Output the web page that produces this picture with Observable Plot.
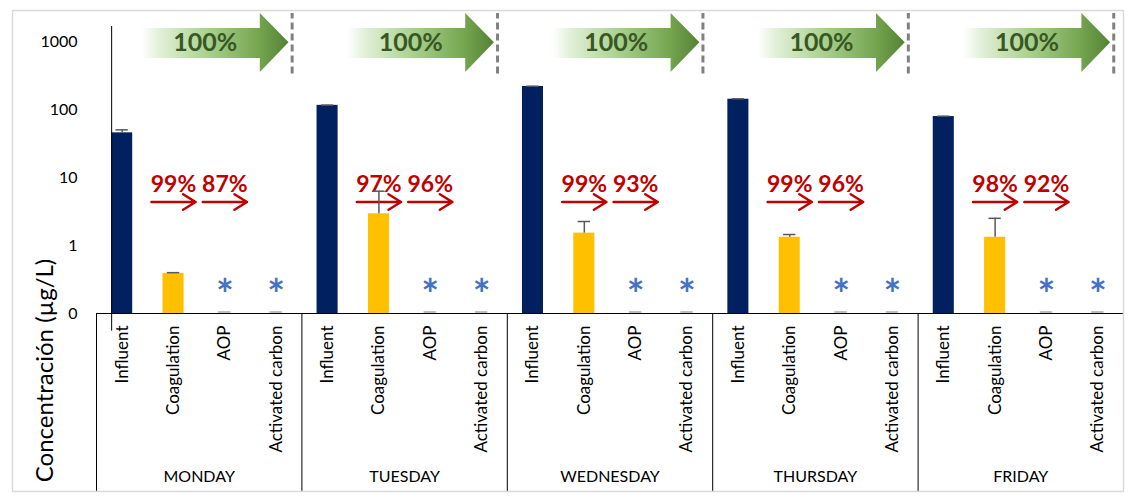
<!DOCTYPE html>
<html><head><meta charset="utf-8">
<script src="https://cdn.jsdelivr.net/npm/d3@7"></script>
<script src="https://cdn.jsdelivr.net/npm/@observablehq/plot@0.6"></script>
<style>body{margin:0;background:#fff;}</style>
</head><body><div id="chart"></div>
<script>
// ---- data ----
const days = ["MONDAY", "TUESDAY", "WEDNESDAY", "THURSDAY", "FRIDAY"];
const stages = ["Influent", "Coagulation", "AOP", "Activated carbon"];
const influent = [46, 117, 222, 144, 80];
const influentErr = [5, 1, 2, 2, 1];
const coagulation = [0.39, 2.95, 1.53, 1.33, 1.33];
const coagulationErr = [0.01, 3.4, 0.74, 0.13, 1.2];
const aop = [0, 0, 0, 0, 0];
const activatedCarbon = [0, 0, 0, 0, 0];
const removalCoag = ["99%", "97%", "99%", "99%", "98%"];
const removalAop = ["87%", "96%", "93%", "96%", "92%"];
const totalRemoval = ["100%", "100%", "100%", "100%", "100%"];
const yTicks = [0.1, 1, 10, 100, 1000];
const yTickLabels = ["0", "1", "10", "100", "1000"];

// ---- layout helpers ----
const bw = 0.41;      // bar width in category units
const cap = 0.12;     // half error-bar cap
const rows = [];
days.forEach((day, d) => {
  const vals = [influent[d], coagulation[d], aop[d], activatedCarbon[d]];
  const errs = [influentErr[d], coagulationErr[d], 0, 0];
  stages.forEach((stage, s) => rows.push({day, stage, i: d * 4 + s, value: vals[s], err: errs[s]}));
});
const bars = rows.filter(r => r.value > 0);
const zeros = rows.filter(r => r.value === 0);
const removalRows = days.flatMap((day, d) => [
  {i: d * 4 + 1, label: removalCoag[d]},
  {i: d * 4 + 2, label: removalAop[d]}
]);
// green block arrow outline (offset in category units, y in µg/L)
const greenShape = [
  {dx: 0.39, lo: 575, hi: 1590},
  {dx: 2.69, lo: 575, hi: 1590},
  {dx: 2.69, lo: 356, hi: 2650},
  {dx: 3.25, lo: 980, hi: 980}
];
const greenPts = days.flatMap((day, d) => greenShape.map(p => ({day, x: d * 4 + p.dx, lo: p.lo, hi: p.hi})));

const chart = Plot.plot({
  width: 1128, height: 498,
  marginLeft: 96, marginRight: 5, marginTop: 26, marginBottom: 185,
  style: {fontFamily: "Lato, sans-serif", fontSize: "16px", background: "white", color: "black"},
  x: {type: "linear", domain: [-0.5, 19.5]},
  y: {type: "log", domain: [0.1, 1700]},
  marks: [
    Plot.areaY(greenPts, {x: "x", y1: "lo", y2: "hi", z: "day", fill: "url(#greenGrad)"}),
    Plot.text(days, {x: (d, k) => k * 4 + 1.62, y: 955, text: (d, k) => totalRemoval[k],
      fill: "#385723", fontWeight: "bold", fontSize: 25}),
    Plot.ruleX(days, {x: (d, k) => k * 4 + 3.31, y1: 340, y2: 2650, stroke: "#808080",
      strokeWidth: 3, strokeDasharray: "7,4"}),
    Plot.rectY(bars.filter(d => d.stage === "Influent"), {x1: d => d.i - bw / 2, x2: d => d.i + bw / 2, y1: 0.1, y2: "value", fill: "#002060"}),
    Plot.rectY(bars.filter(d => d.stage === "Coagulation"), {x1: d => d.i - bw / 2, x2: d => d.i + bw / 2, y1: 0.1, y2: "value", fill: "#ffc000"}),
    Plot.ruleY(zeros, {y: 0.1, x1: d => d.i - cap, x2: d => d.i + cap, stroke: "#bfbfbf", strokeWidth: 2, dy: -1.5}),
    Plot.text(removalRows, {x: "i", y: 8, text: "label", fill: "#c00000", fontWeight: "bold", fontSize: 23}),
    Plot.arrow(removalRows, {x1: d => d.i - 0.43, x2: d => d.i + 0.43, y1: 4.4, y2: 4.4,
      stroke: "#c00000", strokeWidth: 2.5, headLength: 14, headAngle: 64}),
    Plot.ruleX(bars, {x: "i", y1: "value", y2: d => d.value + d.err, stroke: "#595959", strokeWidth: 1.5}),
    Plot.ruleY(bars, {y: d => d.value + d.err, x1: d => d.i - cap, x2: d => d.i + cap, stroke: "#595959", strokeWidth: 1.5}),
    Plot.text(zeros, {x: "i", y: 0.1, dy: -17, text: () => "*", fill: "#4472c4", fontWeight: "bold", fontSize: 42}),
    Plot.ruleY([0.1], {stroke: "black", strokeWidth: 1}),
    Plot.ruleX([-bw / 2], {y1: 0.055, y2: 1700, stroke: "black", strokeWidth: 1}),
    Plot.axisY({ticks: yTicks, tickFormat: d => yTickLabels[yTicks.indexOf(d)], tickSize: 0, tickPadding: 19, label: null, fontSize: 16}),
    Plot.axisX({ticks: d3.range(20), tickFormat: i => stages[i % 4], tickRotate: -90, tickSize: 0, tickPadding: 12, label: null, fontSize: 17}),
    Plot.axisX({ticks: days.map((d, k) => k * 4 + 1.5), tickFormat: t => days[Math.round((t - 1.5) / 4)], tickSize: 0, tickPadding: 157, label: null, fontSize: 16}),
    Plot.axisX({ticks: d3.range(6).map(k => k * 4 - 0.5), tickFormat: () => "", tickSize: 179, label: null}),
    Plot.text(["Concentración (µg/L)"], {x: -0.5, y: 0.1, dx: -51, dy: 57, rotate: -90, text: d => d, fontSize: 24})
  ]
});

const svg = d3.select(chart);
const defs = svg.insert("defs", ":first-child");
const grad = defs.append("linearGradient").attr("id", "greenGrad")
  .attr("x1", "0").attr("x2", "1").attr("y1", "0").attr("y2", "0");
[[0, "#ffffff"], [0.12, "#e2f0d9"], [0.45, "#a9d18e"], [0.8, "#74a54f"], [1, "#548235"]]
  .forEach(([o, c]) => grad.append("stop").attr("offset", o).attr("stop-color", c));
svg.append("rect").attr("x", 12.5).attr("y", 10.5).attr("width", 1111).attr("height", 481)
  .attr("fill", "none").attr("stroke", "#d9d9d9").attr("stroke-width", 1.5);
document.getElementById("chart").appendChild(chart);
</script>
</body></html>
